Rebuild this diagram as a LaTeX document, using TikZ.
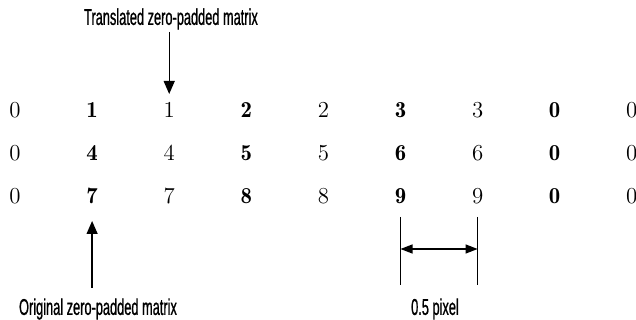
\documentclass[tikz,border=0pt]{standalone}
\usepackage{fontspec}
\newfontfamily\labelfont[FakeStretch=0.56,FakeBold=0.8]{Liberation Sans}
\usetikzlibrary{arrows.meta}
\tikzset{
  entry/.style={inner sep=0pt,font=\fontsize{13}{15}\selectfont},
  caption/.style={inner sep=0pt,font=\labelfont\fontsize{13}{15}\selectfont},
  pointer/.style={line width=0.7pt,-{Triangle[length=2.6mm,width=2.2mm]}},
  span/.style={line width=0.7pt,{Triangle[length=2.4mm,width=1.8mm]}-{Triangle[length=2.4mm,width=1.8mm]}}
}
\begin{document}
\begin{tikzpicture}[x=0.2mm,y=-0.2mm]
      \useasboundingbox (0,0) rectangle (636,320);
      % matrix entries, bold columns are the original values
      \foreach \r\y in {1/110,2/153,3/196} {
        \foreach \c in {1,...,9} {
          \node[entry] (m-\r-\c) at ({15+77.1*(\c-1)},\y) {};
        }
      }
      \foreach \r\a\b\d in {1/1/2/3,2/4/5/6,3/7/8/9} {
        \node[entry] at (m-\r-1) {0};
        \node[entry] at (m-\r-2) {$\mathbf{\a}$};
        \node[entry] at (m-\r-3) {\a};
        \node[entry] at (m-\r-4) {$\mathbf{\b}$};
        \node[entry] at (m-\r-5) {\b};
        \node[entry] at (m-\r-6) {$\mathbf{\d}$};
        \node[entry] at (m-\r-7) {\d};
        \node[entry] at (m-\r-8) {$\mathbf{0}$};
        \node[entry] at (m-\r-9) {0};
      }
      \node[caption] (trans) at (171,19) {Translated zero-padded matrix};
      \node[caption] (orig) at (98,309) {Original zero-padded matrix};
      \node[caption] (half) at (435,309) {0.5 pixel};
      \draw[pointer] (m-1-3 |- 0,32) -- (m-1-3 |- 0,94);
      \draw[pointer] (m-3-2 |- 0,288) -- (m-3-2 |- 0,221);
      % half pixel offset
      \coordinate (left) at (m-3-6 |- 0,249);
      \coordinate (right) at (m-3-7 |- 0,249);
      \draw[line width=0.7pt] (left) ++(0,-32) -- ++(0,68);
      \draw[line width=0.7pt] (right) ++(0,-32) -- ++(0,68);
      \draw[span] (left) -- (right);
\end{tikzpicture}
\end{document}
